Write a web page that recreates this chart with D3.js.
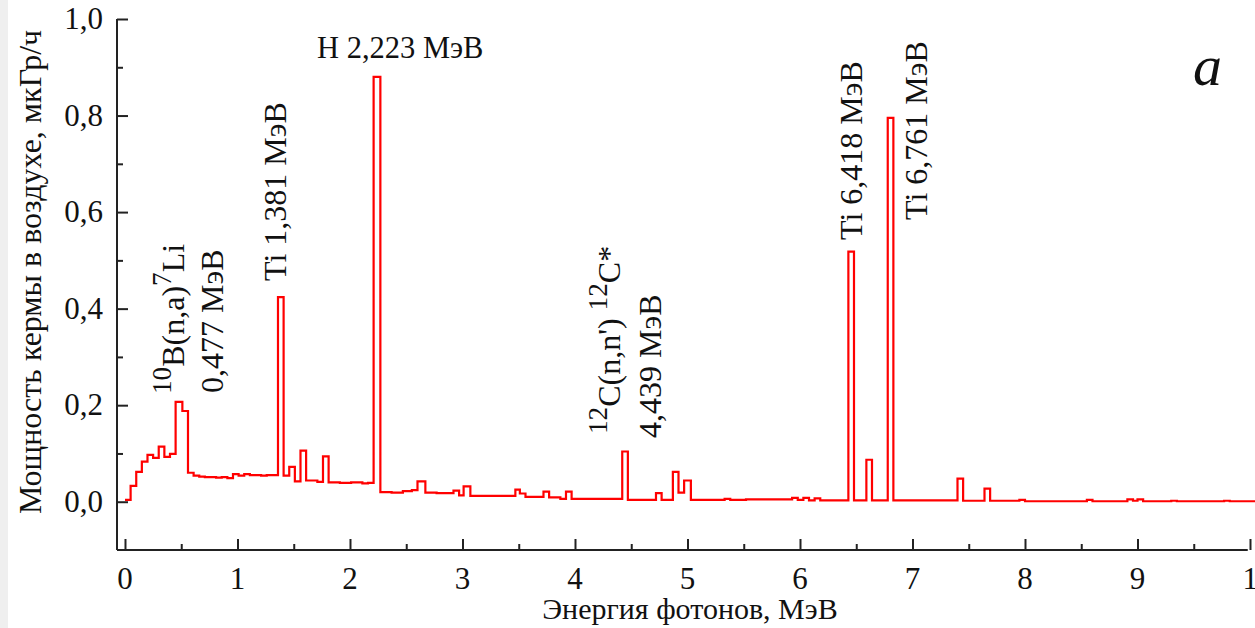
<!DOCTYPE html>
<html>
<head>
<meta charset="utf-8">
<script src="https://cdn.jsdelivr.net/npm/d3@7"></script>
<style>
  html, body { margin: 0; padding: 0; background: #ffffff; }
  svg { display: block; }
  text { font-family: "Liberation Serif", "Times New Roman", serif; fill: #111; }
</style>
</head>
<body>
<svg id="chart" width="1255" height="628" font-family="Liberation Serif, serif"></svg>
<script>
// Photon spectrum of air kerma rate, histogram bins: start energy (MeV) and kerma rate (µGy/h)
const binStart = [
  0.00, 0.05, 0.10, 0.15, 0.20, 0.25, 0.30, 0.35, 0.40, 0.45,
  0.51, 0.56, 0.61, 0.66, 0.71, 0.81, 0.86, 0.91, 0.96, 1.01,
  1.06, 1.11, 1.21, 1.26, 1.36, 1.41, 1.46, 1.51, 1.56, 1.61,
  1.71, 1.76, 1.81, 1.91, 2.01, 2.11, 2.16, 2.21, 2.27, 2.37,
  2.47, 2.55, 2.60, 2.67, 2.77, 2.92, 2.97, 3.01, 3.07, 3.47,
  3.51, 3.56, 3.72, 3.77, 3.87, 3.92, 3.97, 4.42, 4.47, 4.72,
  4.77, 4.87, 4.92, 4.97, 5.03, 5.33, 5.38, 5.52, 5.82, 5.93,
  5.98, 6.03, 6.08, 6.13, 6.18, 6.43, 6.48, 6.59, 6.64, 6.78,
  6.83, 7.12, 7.40, 7.45, 7.64, 7.69, 7.95, 8.00, 8.55, 8.60,
  8.91, 8.96, 9.00, 9.05, 9.30, 9.35, 9.77, 9.82
];
const binKerma = [
  0.004, 0.033, 0.062, 0.083, 0.097, 0.091, 0.114, 0.093, 0.099, 0.207,
  0.188, 0.060, 0.054, 0.052, 0.051, 0.050, 0.051, 0.049, 0.057, 0.054,
  0.057, 0.055, 0.054, 0.055, 0.424, 0.054, 0.072, 0.042, 0.106, 0.044,
  0.041, 0.094, 0.040, 0.039, 0.040, 0.038, 0.039, 0.880, 0.020, 0.019,
  0.022, 0.024, 0.042, 0.019, 0.018, 0.023, 0.013, 0.032, 0.012, 0.025,
  0.017, 0.010, 0.021, 0.009, 0.006, 0.021, 0.006, 0.104, 0.004, 0.018,
  0.004, 0.062, 0.019, 0.044, 0.004, 0.006, 0.004, 0.005, 0.005, 0.008,
  0.004, 0.008, 0.003, 0.007, 0.003, 0.518, 0.003, 0.087, 0.003, 0.795,
  0.003, 0.003, 0.048, 0.002, 0.027, 0.002, 0.004, 0.001, 0.004, 0.001,
  0.005, 0.002, 0.005, 0.001, 0.002, 0.001, 0.002, 0.001
];
const spectrumEnd = 10.10;

const xTickValues = [0, 1, 2, 3, 4, 5, 6, 7, 8, 9, 10];
const xMinorValues = [0.5, 1.5, 2.5, 3.5, 4.5, 5.5, 6.5, 7.5, 8.5, 9.5];
const yTickValues = [0.0, 0.2, 0.4, 0.6, 0.8, 1.0];
const yMinorValues = [0.1, 0.3, 0.5, 0.7, 0.9];
const fmtComma = d => d3.format(".1f")(d).replace(".", ",");

const svg = d3.select("#chart");

// faint grey strip along the left edge of the sheet
svg.append("rect").attr("x", 0).attr("y", 0).attr("width", 8).attr("height", 628).attr("fill", "#efefef");

const x = d3.scaleLinear().domain([-0.071, 10.0]).range([117, 1250]);
const y = d3.scaleLinear().domain([-0.1, 1.0]).range([550, 19]);

// spectrum as a step line
const points = binStart.map((e, i) => [e, binKerma[i]]);
points.push([spectrumEnd, binKerma[binKerma.length - 1]]);
const line = d3.line().x(d => x(d[0])).y(d => y(d[1])).curve(d3.curveStepAfter);
svg.append("path")
  .attr("d", line(points))
  .attr("fill", "none")
  .attr("stroke", "#ff0000")
  .attr("stroke-width", 2.2)
  .attr("stroke-linejoin", "miter");

// axes with inward ticks
const axisColor = "#222";
const xAxisG = svg.append("g").attr("transform", `translate(0,${y(-0.1)})`);
xAxisG.call(d3.axisTop(x).tickValues(xTickValues).tickSize(11).tickFormat(""));
xAxisG.append("g").call(d3.axisTop(x).tickValues(xMinorValues).tickSize(6).tickFormat(""));
xAxisG.selectAll(".domain").attr("stroke", axisColor).attr("stroke-width", 2);
xAxisG.selectAll(".tick line").attr("stroke", axisColor).attr("stroke-width", 2);
xAxisG.selectAll("g g .domain").remove();
xAxisG.select(".domain").attr("d", `M${x(-0.071)},0H${x(9.98)}`);

const yAxisG = svg.append("g").attr("transform", `translate(${x(-0.071)},0)`);
yAxisG.call(d3.axisRight(y).tickValues(yTickValues).tickSize(11).tickFormat(""));
yAxisG.append("g").call(d3.axisRight(y).tickValues(yMinorValues).tickSize(6).tickFormat(""));
yAxisG.selectAll(".domain").attr("stroke", axisColor).attr("stroke-width", 2);
yAxisG.selectAll(".tick line").attr("stroke", axisColor).attr("stroke-width", 2);
yAxisG.selectAll("g g .domain").remove();
yAxisG.select(".domain").attr("d", `M0,${y(-0.1)}V${y(1.0)}`);

// tick labels
svg.append("g").selectAll("text").data(xTickValues).join("text")
  .attr("x", d => x(d) + (d === 10 ? 8 : 0)).attr("y", 589)
  .attr("text-anchor", "middle").attr("font-size", 31)
  .text(d => d);
svg.append("g").selectAll("text").data(yTickValues).join("text")
  .attr("x", 103).attr("y", d => y(d) + 10)
  .attr("text-anchor", "end").attr("font-size", 31)
  .text(fmtComma);

// axis titles
svg.append("text").attr("x", 690).attr("y", 619).attr("text-anchor", "middle").attr("font-size", 30)
  .text("Энергия фотонов, МэВ");
svg.append("text").attr("transform", "translate(41,272) rotate(-90)")
  .attr("text-anchor", "middle").attr("font-size", 32)
  .text("Мощность кермы в воздухе, мкГр/ч");

// panel letter
svg.append("text").attr("x", 1193).attr("y", 85).attr("font-size", 58).attr("font-style", "italic")
  .text("a");

// peak labels
function vlabel(px, py, parts, size) {
  const t = svg.append("text").attr("transform", `translate(${px},${py}) rotate(-90)`).attr("font-size", size);
  parts.forEach(p => {
    const s = t.append("tspan").text(p.t);
    if (p.sup) s.attr("font-size", size * 0.85).attr("dy", -13);
    if (p.back) s.attr("dy", 13);
  });
  return t;
}
vlabel(184, 394, [{t: "10", sup: true}, {t: "B(n,a)", back: true}, {t: "7", sup: true}, {t: "Li", back: true}], 32);
vlabel(223, 393, [{t: "0,477 МэВ"}], 32);
vlabel(286, 281, [{t: "Ti 1,381 МэВ"}], 32);
svg.append("text").attr("x", 317).attr("y", 58).attr("font-size", 30.5).text("H 2,223 МэВ");
vlabel(620, 434, [{t: "12", sup: true}, {t: "C(n,n')", back: true}, {t: " "}, {t: "12", sup: true}, {t: "C*", back: true}], 32);
vlabel(661, 438, [{t: "4,439 МэВ"}], 32);
vlabel(862, 240, [{t: "Ti 6,418 МэВ"}], 32);
vlabel(927, 220, [{t: "Ti 6,761 МэВ"}], 32);
</script>
</body>
</html>
